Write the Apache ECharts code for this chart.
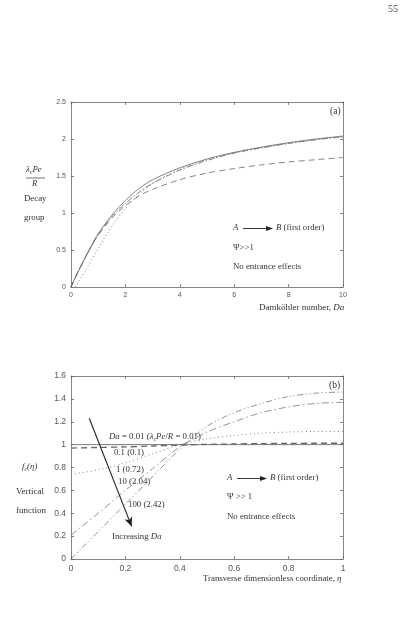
<!DOCTYPE html>
<html><head><meta charset="utf-8">
<script src="https://cdn.jsdelivr.net/npm/echarts@6/dist/echarts.min.js"></script>
<style>html,body{margin:0;padding:0;background:#fff}#c{width:420px;height:631px}</style>
</head><body><div id="c"></div>
<script>
// Panel (a): decay group vs Damköhler number
var daValues = [0, 0.25, 0.5, 0.75, 1, 1.5, 2, 2.5, 3, 4, 5, 6, 7, 8, 9, 10];
var decaySolid = [0, 0.2, 0.38, 0.56, 0.72, 0.97, 1.17, 1.33, 1.45, 1.61, 1.73, 1.82, 1.89, 1.95, 2.0, 2.04];
var decayDashDot = [0, 0.2, 0.38, 0.55, 0.71, 0.95, 1.13, 1.28, 1.40, 1.58, 1.71, 1.81, 1.88, 1.94, 1.99, 2.03];
var decayDashed = [0, 0.2, 0.38, 0.55, 0.70, 0.93, 1.10, 1.23, 1.32, 1.45, 1.54, 1.60, 1.65, 1.69, 1.72, 1.75];
var daDotted = [0.15, 0.5, 1, 1.5, 2, 2.5, 3, 4, 5, 6, 7, 8, 9, 10];
var decayDotted = [0, 0.2, 0.52, 0.82, 1.06, 1.25, 1.40, 1.59, 1.72, 1.81, 1.88, 1.94, 1.99, 2.03];
var aXTicks = [0, 2, 4, 6, 8, 10];
var aYTicks = [0, 0.5, 1, 1.5, 2, 2.5];

// Panel (b): vertical function vs transverse coordinate
var eta = [0, 0.1, 0.2, 0.3, 0.4, 0.5, 0.6, 0.7, 0.8, 0.9, 1.0];
var fDa001 = [1, 1, 1, 1, 1, 1, 1, 1, 1, 1, 1];
var fDa01 = [0.97, 0.975, 0.98, 0.988, 0.996, 1.002, 1.006, 1.009, 1.011, 1.012, 1.012];
var fDa1 = [0.74, 0.78, 0.84, 0.92, 1.0, 1.05, 1.08, 1.10, 1.11, 1.115, 1.115];
var fDa10 = [0.21, 0.40, 0.60, 0.79, 0.98, 1.11, 1.20, 1.28, 1.33, 1.36, 1.37];
var fDa100 = [0, 0.24, 0.48, 0.72, 0.96, 1.16, 1.28, 1.36, 1.42, 1.45, 1.46];
var bXTicks = [0, 0.2, 0.4, 0.6, 0.8, 1];
var bYTicks = [0, 0.2, 0.4, 0.6, 0.8, 1, 1.2, 1.4, 1.6];
var arrowStart = [0.067, 1.23];
var arrowEnd = [0.223, 0.285];

function pairs(xs, ys) { return xs.map(function (x, i) { return [x, ys[i]]; }); }

var serif = '"Liberation Serif","DejaVu Serif",serif';
var sans = '"Liberation Sans","DejaVu Sans",sans-serif';
var axisCol = '#666';
var lineCol = '#666';
var txtCol = '#333';
var FS = 8.8;

function valAxis(grid, min, max, interval, pos, showLabel, fs, fmt) {
  return {
    type: 'value', gridIndex: grid, min: min, max: max, interval: interval, position: pos,
    axisLine: { show: true, onZero: false, lineStyle: { color: axisCol, width: 0.8 } },
    axisTick: { show: true, inside: true, length: 3, lineStyle: { color: axisCol, width: 0.8 } },
    axisLabel: { show: showLabel, fontSize: fs, color: '#555', fontFamily: sans, margin: 5, formatter: fmt },
    splitLine: { show: false }
  };
}
function fmtNum(v) { return String(+v.toFixed(2)); }

function ser(name, xi, yi, data, dash, width) {
  return {
    name: name, type: 'line', xAxisIndex: xi, yAxisIndex: yi, data: data, smooth: 0.3,
    symbol: 'none', silent: true,
    lineStyle: { color: lineCol, width: width || 0.9, type: dash }
  };
}

function txt(x, y, s, fs, col) {
  return {
    type: 'text', left: x, top: y, silent: true,
    style: { text: s, fontSize: fs || FS, fontFamily: serif, fill: col || txtCol }
  };
}
function rich(x, y, s, fs) {
  fs = fs || FS;
  return {
    type: 'text', left: x, top: y, silent: true,
    style: {
      text: s, fontSize: fs, fontFamily: serif, fill: txtCol,
      rich: {
        i: { fontStyle: 'italic', fontSize: fs, fontFamily: serif, fill: txtCol },
        s: { fontSize: 6, fontFamily: serif, fill: txtCol, padding: [5, 0, 0, 0] },
        si: { fontSize: 6, fontStyle: 'italic', fontFamily: serif, fill: txtCol, padding: [5, 0, 0, 0] },
        n: { fontSize: fs, fontFamily: serif, fill: txtCol }
      }
    }
  };
}
function reaction(x, y) {
  return [
    rich(x, y, '{i|A}'),
    { type: 'line', silent: true, shape: { x1: x + 10, y1: y + 5.5, x2: x + 34, y2: y + 5.5 }, style: { stroke: '#222', lineWidth: 0.9 } },
    { type: 'polygon', silent: true, shape: { points: [[x + 33, y + 3], [x + 40, y + 5.5], [x + 33, y + 8]] }, style: { fill: '#222' } },
    rich(x + 43, y, '{i|B} (first order)')
  ];
}

var chart = echarts.init(document.getElementById('c'), null, { renderer: 'canvas' });
var graphics = [
  txt(388, 4, '55', 10, '#444'),
  // panel a
  txt(330, 106, '(a)', 9.5)
].concat(reaction(233, 223)).concat([
  rich(233, 243, 'Ψ>>1'),
  rich(233, 262, 'No entrance effects'),
  rich(259, 303, 'Damköhler number, {i|Da}', 9),
  rich(26, 165, '{i|λ}{s|c}{i|Pe}'),
  { type: 'line', silent: true, shape: { x1: 26, y1: 178, x2: 45, y2: 178 }, style: { stroke: '#333', lineWidth: 0.7 } },
  rich(32, 179, '{i|R}'),
  rich(24, 194, 'Decay'),
  rich(24, 213, 'group'),
  // panel b
  txt(329, 380, '(b)', 9.5),
  rich(109, 432, '{i|Da} = 0.01 ({i|λ}{s|c}{i|Pe}/{i|R} = 0.01)'),
  rich(114, 448, '0.1 (0.1)'),
  rich(116, 465, '1 (0.72)'),
  rich(118, 477, '10 (2.04)'),
  rich(128, 500, '100 (2.42)'),
  rich(112, 532, 'Increasing {i|Da}')
]).concat(reaction(227, 473)).concat([
  rich(227, 492, 'Ψ >> 1'),
  rich(227, 512, 'No entrance effects'),
  rich(203, 574, 'Transverse dimensionless coordinate, {i|η}'),
  rich(22, 462, '{i|f}{si|c}{i|(η)}'),
  rich(16, 487, 'Vertical', 9),
  rich(16, 506, 'function', 9)
]);

var option = {
  animation: false,
  backgroundColor: '#fff',
  grid: [
    { left: 71, top: 102, width: 272, height: 185, show: false },
    { left: 71, top: 376, width: 272, height: 183, show: false }
  ],
  xAxis: [
    valAxis(0, aXTicks[0], aXTicks[aXTicks.length - 1], 2, 'bottom', true, 7, fmtNum),
    valAxis(0, aXTicks[0], aXTicks[aXTicks.length - 1], 2, 'top', false, 7, fmtNum),
    valAxis(1, bXTicks[0], bXTicks[bXTicks.length - 1], 0.2, 'bottom', true, 8.5, fmtNum),
    valAxis(1, bXTicks[0], bXTicks[bXTicks.length - 1], 0.2, 'top', false, 8.5, fmtNum)
  ],
  yAxis: [
    valAxis(0, aYTicks[0], aYTicks[aYTicks.length - 1], 0.5, 'left', true, 7, fmtNum),
    valAxis(0, aYTicks[0], aYTicks[aYTicks.length - 1], 0.5, 'right', false, 7, fmtNum),
    valAxis(1, bYTicks[0], bYTicks[bYTicks.length - 1], 0.2, 'left', true, 8.5, fmtNum),
    valAxis(1, bYTicks[0], bYTicks[bYTicks.length - 1], 0.2, 'right', false, 8.5, fmtNum)
  ],
  series: [
    ser('a solid', 0, 0, pairs(daValues, decaySolid), 'solid', 0.8),
    ser('a dashdot', 0, 0, pairs(daValues, decayDashDot), [6, 2, 1.5, 2], 0.8),
    ser('a dashed', 0, 0, pairs(daValues, decayDashed), [6, 4], 0.8),
    ser('a dotted', 0, 0, pairs(daDotted, decayDotted), [1, 2.5], 0.8),
    ser('Da 0.01', 2, 2, pairs(eta, fDa001), 'solid', 0.9),
    ser('Da 0.1', 2, 2, pairs(eta, fDa01), [6, 4], 1.3),
    ser('Da 1', 2, 2, pairs(eta, fDa1), [1, 3], 0.8),
    ser('Da 10', 2, 2, pairs(eta, fDa10), [7, 3, 1.5, 3], 0.7),
    {
      name: 'Da 100', type: 'line', xAxisIndex: 2, yAxisIndex: 2, data: pairs(eta, fDa100), smooth: 0.3,
      symbol: 'none', silent: true,
      lineStyle: { color: lineCol, width: 0.7, type: [6, 2.5, 1.2, 2.5, 1.2, 2.5] },
      markLine: {
        silent: true, symbol: ['none', 'arrow'], symbolSize: [6, 9],
        lineStyle: { color: '#222', width: 1.1, type: 'solid' },
        label: { show: false },
        data: [[{ coord: arrowStart }, { coord: arrowEnd }]]
      }
    }
  ],
  graphic: graphics
};
chart.setOption(option);
</script></body></html>
